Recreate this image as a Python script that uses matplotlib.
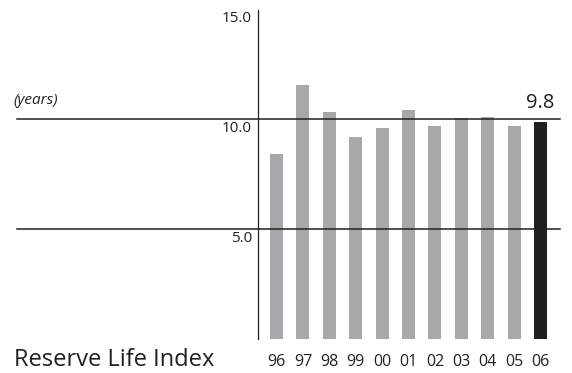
import matplotlib
matplotlib.use("Agg")
import matplotlib.pyplot as plt

# Reserve Life Index (years), fiscal years 96-06
years = ["96", "97", "98", "99", "00", "01", "02", "03", "04", "05", "06"]
values = [8.4, 11.55, 10.3, 9.2, 9.6, 10.4, 9.7, 10.05, 10.1, 9.7, 9.85]
grid_ticks = [5.0, 10.0]
tick_labels = ["5.0", "10.0", "15.0"]

plt.rcParams['font.family'] = ['Open Sans', 'DejaVu Sans']

fig = plt.figure(figsize=(5.72, 3.73), dpi=100)
ax = fig.add_axes([0, 0, 1, 1])
ax.set_xlim(-10.47, 11.19)
ax.set_ylim(-1.545, 15.41)
ax.axis("off")

x = list(range(len(years)))
colors = ["#a7a8ab"] * (len(years) - 1) + ["#231f20"]
ax.bar(x, values, width=0.49, color=colors, zorder=2)

# horizontal reference lines
for t in grid_ticks:
    ax.plot([-9.83, 10.74], [t, t], color="#231f20", lw=1.1, zorder=3)

# vertical axis
ax.plot([-0.70, -0.70], [0.0, 14.95], color="#231f20", lw=0.9, zorder=3)

# value labels just below each tick
for t, lab in zip([5.0, 10.0, 15.0], tick_labels):
    ax.text(-0.93, t - 0.45, lab, ha="right", va="center", fontsize=11, color="#231f20")

ax.text(-9.95, 10.86, "(years)", ha="left", va="center", fontsize=11,
        style="italic", color="#231f20")
ax.text(10.0, 10.75, "9.8", ha="center", va="center", fontsize=14.5, color="#231f20")

for i, lab in enumerate(years):
    ax.text(i, -1.05, lab, ha="center", va="center", fontsize=11.5, color="#231f20")

ax.text(-9.95, -0.95, "Reserve Life Index", ha="left", va="center", fontsize=17,
        color="#231f20")

fig.savefig("out.png", dpi=100)
